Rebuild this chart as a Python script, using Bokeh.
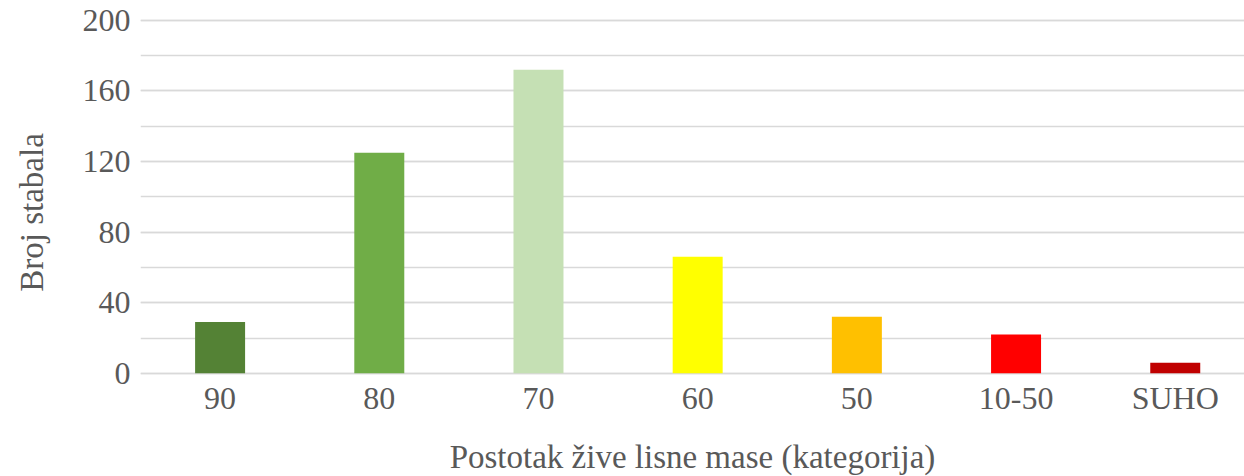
from bokeh.plotting import figure
from bokeh.models import Range1d, FixedTicker, SingleIntervalTicker, ColumnDataSource
from bokeh.embed import file_html
from bokeh.resources import INLINE

categories = ["90", "80", "70", "60", "50", "10-50", "SUHO"]
counts = [29, 125, 172, 66, 32, 22, 6]
colors = ["#548235", "#70ad47", "#c5e0b4", "#ffff00", "#ffc000", "#ff0000", "#c00000"]
y_ticks_interval = 40
x_title = "Postotak žive lisne mase (kategorija)"
y_title = "Broj stabala"

xs = list(range(len(categories)))
src = ColumnDataSource(dict(x=xs, top=counts, color=colors, cat=categories))

FONT = "Liberation Serif"
TXT = "#595959"
GRID = "#d9d9d9"

p = figure(width=1244, height=476, output_backend="svg", toolbar_location=None,
           x_range=Range1d(-0.5, 6.435), y_range=Range1d(-18.8, 201),
           frame_width=1104, frame_height=388,
           min_border_left=140, min_border_right=0, min_border_top=18, min_border_bottom=70)
p.outline_line_color = None

p.vbar(x="x", top="top", bottom=0, width=0.314, color="color", line_color=None, source=src)

p.xaxis.ticker = FixedTicker(ticks=xs)
p.xaxis.major_label_overrides = {i: c for i, c in zip(xs, categories)}
p.yaxis.ticker = SingleIntervalTicker(interval=y_ticks_interval, num_minor_ticks=2)

p.xgrid.grid_line_color = None
p.ygrid.grid_line_color = GRID
p.ygrid.grid_line_width = 1.5
p.ygrid.minor_grid_line_color = GRID
p.ygrid.minor_grid_line_width = 1.5

for ax in (p.xaxis, p.yaxis):
    ax.axis_line_color = None
    ax.major_tick_line_color = None
    ax.minor_tick_line_color = None
    ax.major_label_text_font = FONT
    ax.major_label_text_font_size = "32px"
    ax.major_label_text_color = TXT
    ax.axis_label_text_font = FONT
    ax.axis_label_text_font_size = "33px"
    ax.axis_label_text_color = TXT
    ax.axis_label_text_font_style = "normal"

p.xaxis.axis_label = x_title
p.yaxis.axis_label = y_title
p.xaxis.major_label_standoff = -33
p.yaxis.major_label_standoff = 4
p.xaxis.axis_label_standoff = 20
p.yaxis.axis_label_standoff = 30

open("out.html", "w").write(file_html(p, INLINE))
